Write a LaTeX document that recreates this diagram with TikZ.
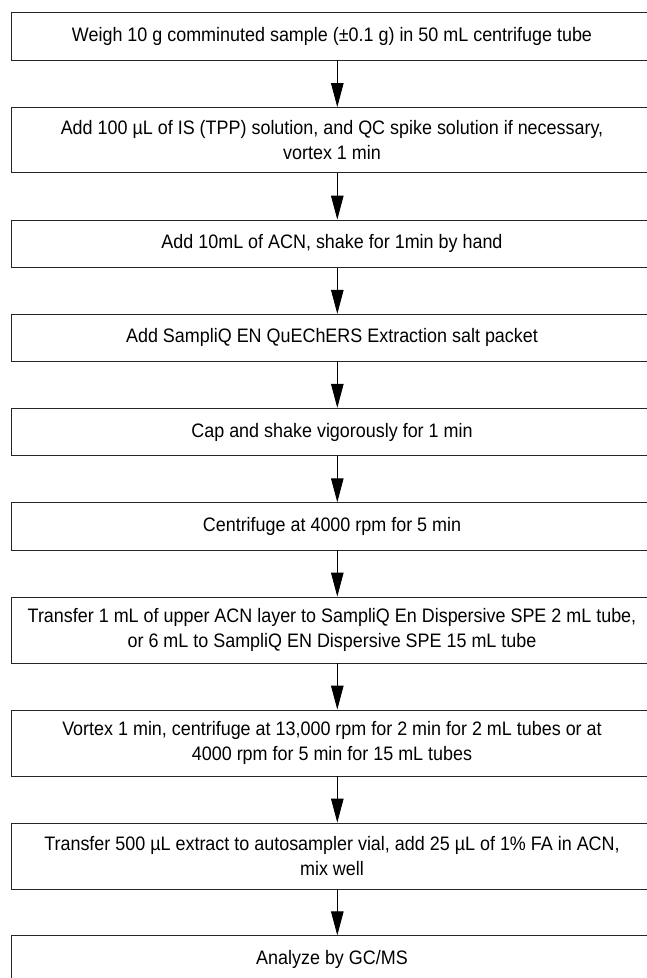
\documentclass[tikz,border=0pt]{standalone}
\usepackage{fontspec}
\setmainfont{Liberation Sans}[FakeStretch=0.92]
\usetikzlibrary{arrows.meta}
\begin{document}
\begin{tikzpicture}[x=1pt,y=1pt,
  stepbox/.style={draw=black!85, line width=0.9pt, rectangle, inner sep=0pt,
    minimum width=640.6pt, align=center,
    font=\fontsize{19.5}{25}\selectfont},
  flowarrow/.style={draw=black, line width=1pt,
    -{Triangle[length=24pt,width=12.5pt]}}]
\useasboundingbox (0,0) rectangle (646,-978);
\fill[white] (0,0) rectangle (646,-978);
\coordinate (ax) at (337.3,0);
\node[stepbox, minimum height=47.3pt] (s1) at (332,-36.35) {Weigh 10 g comminuted sample (±0.1 g) in 50 mL centrifuge tube};
\node[stepbox, minimum height=65.2pt] (s2) at (332,-140.1) {Add 100 µL of IS (TPP) solution, and QC spike solution if necessary,\\vortex 1 min};
\node[stepbox, minimum height=47.3pt] (s3) at (332,-243.65) {Add 10mL of ACN, shake for 1min by hand};
\node[stepbox, minimum height=47pt] (s4) at (332,-337.8) {Add SampliQ EN QuEChERS Extraction salt packet};
\node[stepbox, minimum height=47.4pt] (s5) at (332,-432) {Cap and shake vigorously for 1 min};
\node[stepbox, minimum height=47.3pt] (s6) at (332,-526.35) {Centrifuge at 4000 rpm for 5 min};
\node[stepbox, minimum height=66pt] (s7) at (332,-630) {Transfer 1 mL of upper ACN layer to SampliQ En Dispersive SPE 2 mL tube,\\or 6 mL to SampliQ EN Dispersive SPE 15 mL tube};
\node[stepbox, minimum height=66pt] (s8) at (332,-743) {Vortex 1 min, centrifuge at 13,000 rpm for 2 min for 2 mL tubes or at\\4000 rpm for 5 min for 15 mL tubes};
\node[stepbox, minimum height=66pt] (s9) at (332,-856) {Transfer 500 µL extract to autosampler vial, add 25 µL of 1\% FA in ACN,\\mix well};
\node[stepbox, minimum height=47pt] (s10) at (332,-959.3) {Analyze by GC/MS};
\foreach \a/\b in {s1/s2,s2/s3,s3/s4,s4/s5,s5/s6,s6/s7,s7/s8,s8/s9,s9/s10}
  \draw[flowarrow] (\a.south -| ax) -- (\b.north -| ax);
\end{tikzpicture}
\end{document}
